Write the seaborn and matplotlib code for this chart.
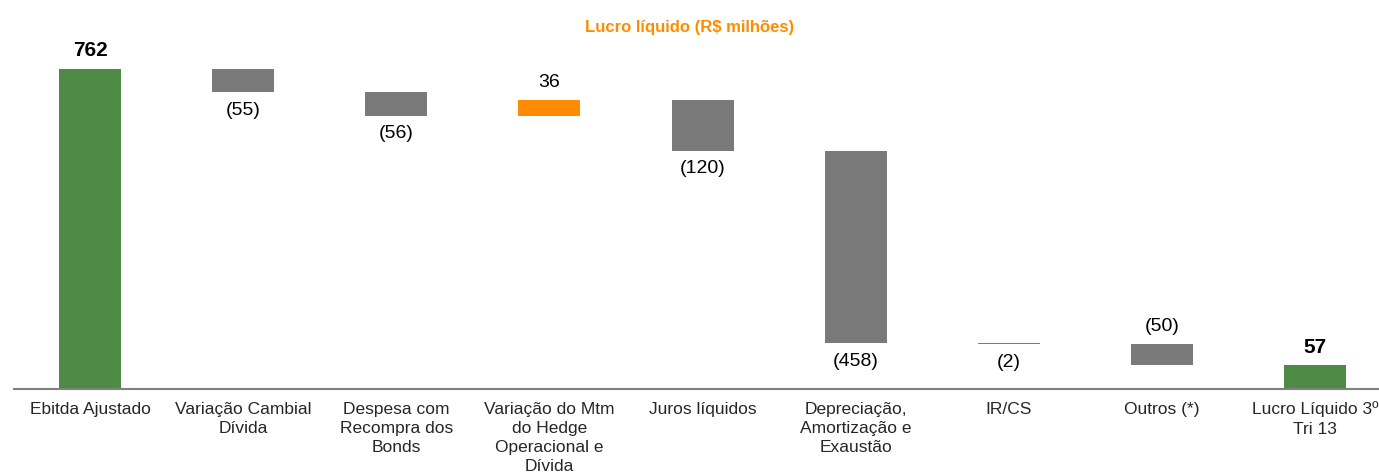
import numpy as np
import matplotlib
matplotlib.use("Agg")
import matplotlib.pyplot as plt
import seaborn as sns

# Waterfall data (R$ milhoes)
categories = ["Ebitda Ajustado", "Variação Cambial\nDívida", "Despesa com\nRecompra dos\nBonds",
              "Variação do Mtm\ndo Hedge\nOperacional e\nDívida", "Juros líquidos",
              "Depreciação,\nAmortização e\nExaustão", "IR/CS", "Outros (*)", "Lucro Líquido 3º\nTri 13"]
values = [762, -55, -56, 36, -120, -458, -2, -50, 57]
is_total = [True, False, False, False, False, False, False, False, True]
labels = ["762", "(55)", "(56)", "36", "(120)", "(458)", "(2)", "(50)", "57"]
label_above = [True, False, False, True, False, False, False, True, True]

GREEN = "#4E8B46"
GRAY = "#7A7A7A"
ORANGE = "#FF8C00"

# running totals -> low / high of each floating bar
low, high = [], []
running = 0
for v, tot in zip(values, is_total):
    if tot:
        lo, hi = 0, v
        running = v
    else:
        start = running
        running = running + v
        lo, hi = min(start, running), max(start, running)
    low.append(lo)
    high.append(hi)

colors = []
for v, tot in zip(values, is_total):
    if tot:
        colors.append(GREEN)
    elif v > 0:
        colors.append(ORANGE)
    else:
        colors.append(GRAY)

sns.set_style("white")
plt.rcParams["font.family"] = ["Liberation Sans", "DejaVu Sans"]

fig = plt.figure(figsize=(13.79, 4.75), dpi=100)
ax = fig.add_axes([0.0098, 0.181, 0.9993, 0.819])

keys = [str(i) for i in range(len(categories))]
sns.barplot(x=keys, y=high, hue=keys, palette=dict(zip(keys, colors)), legend=False,
            width=0.405, saturation=1, linewidth=0, ax=ax)
# white bars hide the part below each floating bar
sns.barplot(x=keys, y=low, color="white", width=0.405, saturation=1, linewidth=0, ax=ax)

for i, (lab, up) in enumerate(zip(labels, label_above)):
    y = high[i] if up else low[i]
    off = 13 if up else -13
    bold = is_total[i]
    ax.annotate(lab, (i, y), xytext=(0, off), textcoords="offset points",
                ha="center", va="center", fontsize=15 if bold else 14,
                fontweight="bold" if bold else "normal", color="black")

ax.set_xlim(-0.5, 8.5)
ax.set_ylim(0, 926)
ax.set_xticks(range(len(categories)))
ax.set_xticklabels(categories, fontsize=12.5, linespacing=1.35)
ax.tick_params(axis="x", length=0, pad=9)
ax.set_yticks([])
ax.set_xlabel("")
ax.set_ylabel("")
for s in ["top", "right", "left"]:
    ax.spines[s].set_visible(False)
ax.spines["bottom"].set_color("#808080")
ax.spines["bottom"].set_linewidth(1.5)

fig.text(0.5, 0.943, "Lucro líquido (R$ milhões)", ha="center", va="center",
         fontsize=12, fontweight="bold", color=ORANGE)

fig.savefig("out.png", dpi=100)
